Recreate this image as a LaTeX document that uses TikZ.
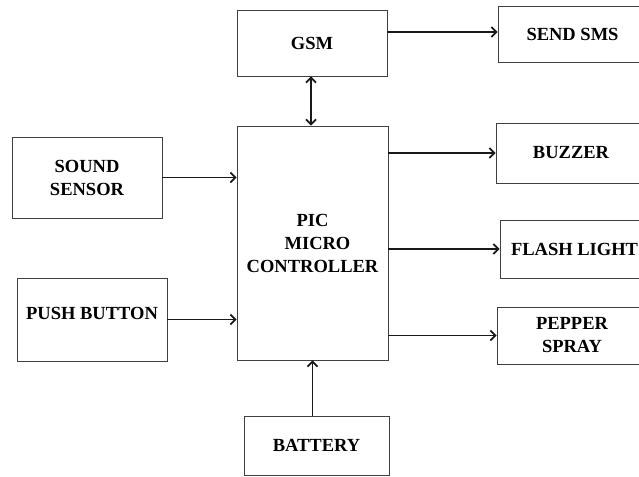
\documentclass[tikz,border=0pt]{standalone}
\usepackage{fontspec}
\setmainfont{Liberation Serif}
\usetikzlibrary{arrows.meta}
\begin{document}
\begin{tikzpicture}[x=1pt,y=-1pt,
  box/.style={draw=black!75, line width=0.9pt, rectangle, inner sep=0pt, align=center,
    font=\fontsize{18.5}{23}\selectfont\bfseries},
  lbl/.style={inner sep=0pt, align=center, font=\fontsize{18.5}{23}\selectfont\bfseries},
  arr/.style={line width=1.7pt, black!90, -{Straight Barb[length=5pt,width=10pt]}},
  dbl/.style={line width=1.7pt, black!90, {Straight Barb[length=5pt,width=10pt]}-{Straight Barb[length=5pt,width=10pt]}}]
\useasboundingbox (0,0) rectangle (639,476);
\clip (0,0) rectangle (639,476);
\fill[white] (0,0) rectangle (639,476);
% boxes
\node[box, minimum width=150pt, minimum height=66pt] (gsm) at (312,43) {GSM};
\node[box, minimum width=149pt, minimum height=56pt] (sms) at (572.5,34) {SEND SMS};
\node[box, minimum width=150pt, minimum height=81pt] (sound) at (87,177.5) {SOUND\\SENSOR};
\node[box, minimum width=151pt, minimum height=234pt] (pic) at (312.5,243) {PIC\\\hspace*{10pt}MICRO\\CONTROLLER};
\node[box, minimum width=150pt, minimum height=60pt] (buzzer) at (571,153) {BUZZER};
\node[box, minimum width=149pt, minimum height=58pt] (flash) at (574.5,249) {FLASH LIGHT};
\node[box, minimum width=150pt, minimum height=83pt] (push) at (92,319.5) {};
\node[lbl] (pushtxt) at (92,313) {PUSH BUTTON};
\node[box, minimum width=150pt, minimum height=57pt] (pepper) at (572,335.5) {PEPPER\\SPRAY};
\node[box, minimum width=145pt, minimum height=59pt] (battery) at (316.5,445.5) {BATTERY};
% connectors
\draw[arr] ([yshift=11pt]gsm.east) coordinate (g1) -- (g1 -| sms.west);
\draw[dbl] ([xshift=-1pt]gsm.south) coordinate (g2) -- (g2 |- pic.north);
\draw[arr] (sound.east) -- (sound.east -| pic.west);
\draw[arr] (push.east) -- (push.east -| pic.west);
\draw[arr] (buzzer.west -| pic.east) -- (buzzer.west);
\draw[arr] (flash.west -| pic.east) -- (flash.west);
\draw[arr] (pepper.west -| pic.east) -- (pepper.west);
\draw[arr] (battery.north -| pic.south) -- (pic.south);
\end{tikzpicture}
\end{document}
